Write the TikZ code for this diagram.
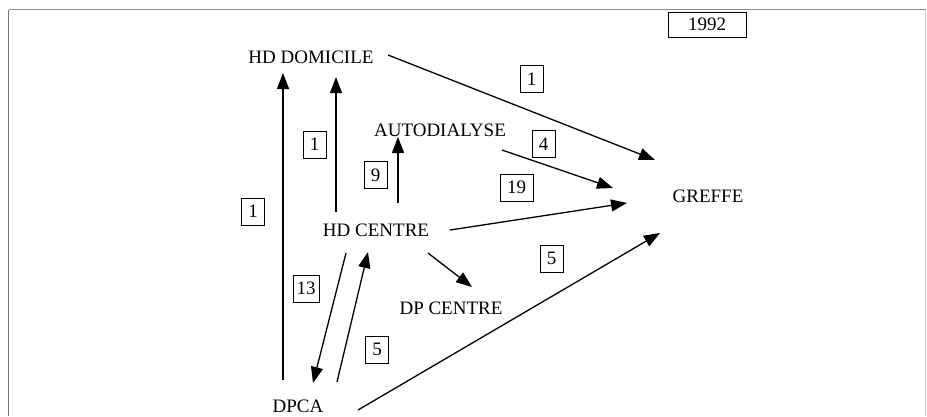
\documentclass[tikz,border=0pt]{standalone}
\usepackage{fontspec}
\setmainfont{Liberation Serif}
\usetikzlibrary{arrows.meta}
\begin{document}
\begin{tikzpicture}[x=1pt,y=-1pt,
  lbl/.style={inner sep=0pt,font=\fontsize{19}{21}\selectfont},
  num/.style={draw,line width=1pt,inner sep=0pt,minimum width=23pt,minimum height=27pt,font=\fontsize{19}{21}\selectfont},
  flow/.style={line width=1.3pt,-{Triangle[length=16pt,width=12pt]}}
]
\useasboundingbox (0,0) rectangle (927,416);
% frame
\draw[line width=1.5pt,color=black!55] (8.5,416) -- (8.5,9.5);
\draw[line width=1.5pt,color=black!45] (8.5,9.5) -- (925.5,9.5);
\draw[line width=1pt,color=black!20] (925.5,9.5) -- (925.5,416);
% year
\node[num,minimum width=78pt,minimum height=25pt] (year) at (707,24.5) {1992};
% states
\node[lbl] (hdd) at (311,57.5) {HD DOMICILE};
\node[lbl] (auto) at (440,130) {AUTODIALYSE};
\node[lbl] (hdc) at (376,230.5) {HD CENTRE};
\node[lbl] (dpc) at (451,308.5) {DP CENTRE};
\node[lbl] (dpca) at (298,406.5) {DPCA};
\node[lbl] (gref) at (708,196) {GREFFE};
% arrow end points
\coordinate (hdd-g) at (388,55);   \coordinate (g-hdd) at (655,160);
\coordinate (auto-g) at (502,150); \coordinate (g-auto) at (613,188);
\coordinate (hdc-g) at (450,230);  \coordinate (g-hdc) at (627,203);
\coordinate (dpca-g) at (358,410); \coordinate (g-dpca) at (660,233);
\coordinate (hdc-hdd) at (336,212); \coordinate (hdd-hdc) at (336,77);
\coordinate (dpca-hdd) at (283,380); \coordinate (hdd-dpca) at (283,73);
\coordinate (hdc-auto) at (398,203); \coordinate (auto-hdc) at (398,137);
\coordinate (hdc-dpc) at (428,253); \coordinate (dpc-hdc) at (472,287);
\coordinate (hdc-dpca) at (346,253); \coordinate (dpca-hdc) at (313,383);
\coordinate (dpca-hdc2) at (337,382); \coordinate (hdc-dpca2) at (368,252);
% flows
\draw[flow] (hdd-g) -- (g-hdd);
\draw[flow] (auto-g) -- (g-auto);
\draw[flow] (hdc-g) -- (g-hdc);
\draw[flow] (dpca-g) -- (g-dpca);
\draw[flow] (hdc-hdd) -- (hdd-hdc);
\draw[flow] (dpca-hdd) -- (hdd-dpca);
\draw[flow] (hdc-auto) -- (auto-hdc);
\draw[flow] (hdc-dpc) -- (dpc-hdc);
\draw[flow] (hdc-dpca) -- (dpca-hdc);
\draw[flow] (dpca-hdc2) -- (hdc-dpca2);
% counts
\node[num] (n1) at (531.5,79) {1};
\node[num] (n2) at (314.5,144.5) {1};
\node[num] (n3) at (253,211.5) {1};
\node[num] (n4) at (543.5,144) {4};
\node[num] (n5) at (375.5,175) {9};
\node[num,minimum width=33pt] (n6) at (516.5,187.5) {19};
\node[num,minimum width=26pt] (n7) at (306,288.5) {13};
\node[num] (n8) at (377,349.5) {5};
\node[num] (n9) at (551.5,258.5) {5};
\end{tikzpicture}
\end{document}
